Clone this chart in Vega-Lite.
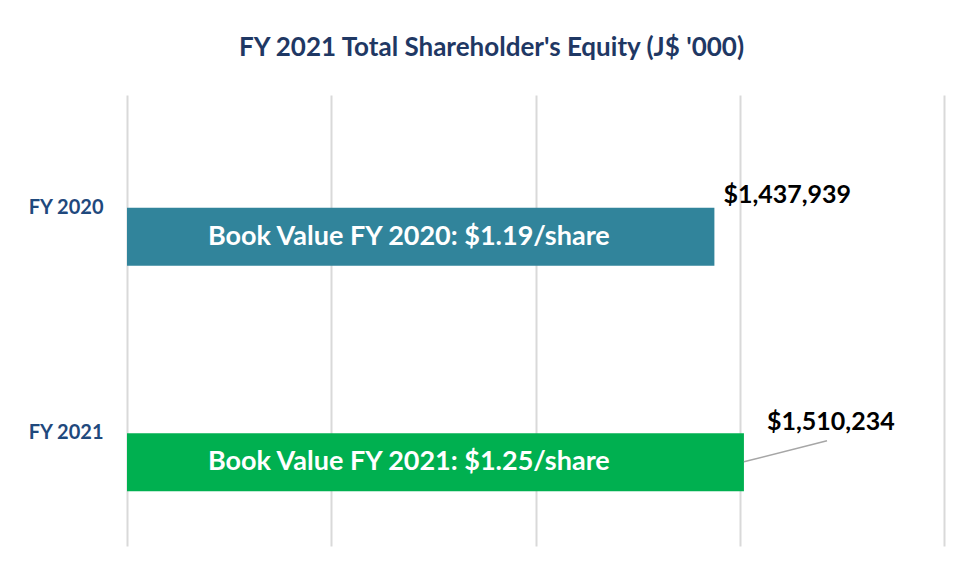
{
  "$schema": "https://vega.github.io/schema/vega-lite/v6.json",
  "width": 817,
  "height": 451,
  "autosize": {"type": "none"},
  "padding": {"left": 127, "top": 95, "right": 14, "bottom": 21},
  "background": "white",
  "config": {"view": {"stroke": null}},
  "title": {
    "text": "FY 2021 Total Shareholder's Equity (J$ '000)",
    "font": "Lato",
    "fontSize": 26,
    "fontWeight": "bold",
    "color": "#1F3864",
    "anchor": "middle",
    "dx": -44,
    "offset": 34
  },
  "data": {
    "values": [
      {"year": "FY 2020", "equity": 1437939, "label": "$1,437,939", "book": "Book Value FY 2020: $1.19/share"},
      {"year": "FY 2021", "equity": 1510234, "label": "$1,510,234", "book": "Book Value FY 2021: $1.25/share"}
    ]
  },
  "encoding": {
    "y": {
      "field": "year",
      "type": "nominal",
      "sort": ["FY 2020", "FY 2021"],
      "scale": {"paddingInner": 0, "paddingOuter": 0},
      "axis": {
        "title": null,
        "domain": false,
        "ticks": false,
        "labelPadding": 24,
        "labelFont": "Lato",
        "labelFontSize": 20,
        "labelFontWeight": "bold",
        "labelColor": "#1F497D",
        "labelBaseline": "middle",
        "labelAlign": "right",
        "grid": false
      }
    }
  },
  "layer": [
    {
      "mark": {"type": "bar", "height": 58, "yOffset": 29},
      "encoding": {
        "x": {
          "field": "equity",
          "type": "quantitative",
          "scale": {"domain": [0, 2000000]},
          "axis": {
            "title": null,
            "labels": false,
            "ticks": false,
            "domain": false,
            "values": [0, 500000, 1000000, 1500000, 2000000],
            "grid": true,
            "gridColor": "#D9D9D9",
            "gridWidth": 2
          }
        },
        "color": {
          "field": "year",
          "type": "nominal",
          "scale": {"domain": ["FY 2020", "FY 2021"], "range": ["#31849B", "#00B050"]},
          "legend": null
        }
      }
    },
    {
      "mark": {"type": "text", "font": "Lato", "fontSize": 27, "fontWeight": "bold", "color": "white", "align": "center", "baseline": "middle", "yOffset": 29},
      "encoding": {
        "x": {"datum": 690000, "type": "quantitative"},
        "text": {"field": "book"}
      }
    },
    {
      "transform": [{"filter": "datum.year === 'FY 2020'"}],
      "mark": {"type": "text", "font": "Lato", "fontSize": 25, "fontWeight": "bold", "color": "black", "align": "left", "baseline": "middle", "dx": 9, "dy": -13},
      "encoding": {
        "x": {"field": "equity", "type": "quantitative"},
        "text": {"field": "label"}
      }
    },
    {
      "transform": [{"filter": "datum.year === 'FY 2021'"}],
      "mark": {"type": "text", "font": "Lato", "fontSize": 25, "fontWeight": "bold", "color": "black", "align": "left", "baseline": "middle", "dx": 23, "dy": -11},
      "encoding": {
        "x": {"field": "equity", "type": "quantitative"},
        "text": {"field": "label"}
      }
    },
    {
      "transform": [{"filter": "datum.year === 'FY 2021'"}],
      "mark": {"type": "rule", "color": "#A6A6A6", "strokeWidth": 1.5, "yOffset": 28.5, "y2Offset": 7.5},
      "encoding": {
        "x": {"field": "equity", "type": "quantitative"},
        "x2": {"datum": 1713600},
        "y2": {"field": "year"}
      }
    }
  ]
}
